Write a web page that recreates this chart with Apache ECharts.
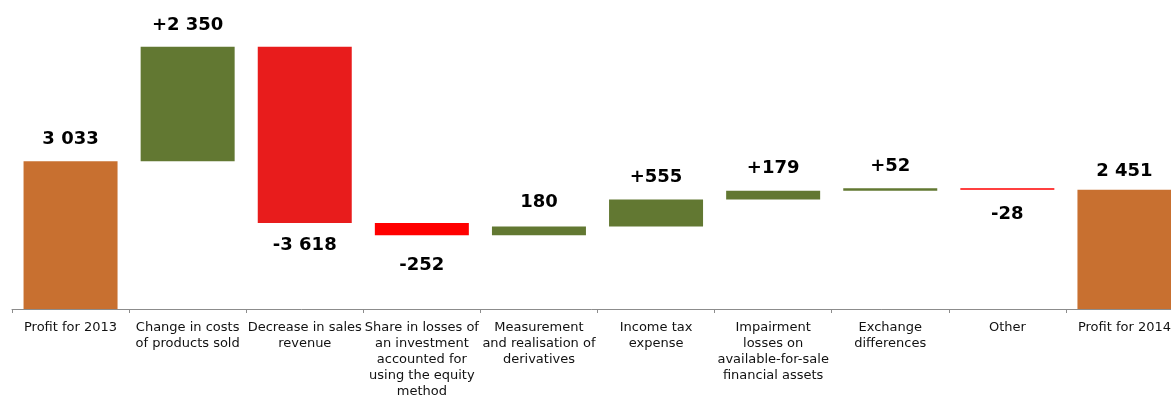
<!DOCTYPE html>
<html>
<head>
<meta charset="utf-8">
<script src="https://cdn.jsdelivr.net/npm/echarts@6/dist/echarts.min.js"></script>
<style>
  html, body { margin: 0; padding: 0; background: #fff; }
  #chart { width: 1171px; height: 396px; }
</style>
</head>
<body>
<div id="chart"></div>
<script>
// Profit bridge 2013 -> 2014
const categories = [
  'Profit for 2013',
  'Change in costs\nof products sold',
  'Decrease in sales\nrevenue',
  'Share in losses of\nan investment\naccounted for\nusing the equity\nmethod',
  'Measurement\nand realisation of\nderivatives',
  'Income tax\nexpense',
  'Impairment\nlosses on\navailable-for-sale\nfinancial assets',
  'Exchange\ndifferences',
  'Other',
  'Profit for 2014'
];
// totals are absolute, the rest are changes
const values = [3033, 2350, -3618, -252, 180, 555, 179, 52, -28, 2451];
const isTotal = [true, false, false, false, false, false, false, false, false, true];
const showPlus = [false, true, true, true, false, true, true, true, true, false];
const barColors = ['#C87030', '#627832', '#E81C1C', '#FF0000', '#627832', '#627832', '#627832', '#627832', '#FF0000', '#C87030'];
// gap between a bar and its value label
const labelGap = [13, 13, 13, 21, 15, 13, 13, 13, 16, 9];

// floating segments: invisible base + visible part
const baseData = [];
const barData = [];
let running = 0;
values.forEach((v, i) => {
  const start = isTotal[i] ? 0 : running;
  const end = isTotal[i] ? v : running + v;
  baseData.push(Math.min(start, end));
  barData.push({
    value: Math.abs(end - start),
    itemStyle: { color: barColors[i] },
    label: { position: v < 0 ? 'bottom' : 'top', distance: labelGap[i] }
  });
  running = end;
});

function fmt(v, plus) {
  const s = Math.abs(v).toString().replace(/\B(?=(\d{3})+(?!\d))/g, ' ');
  if (v < 0) return '-' + s;
  return (plus ? '+' : '') + s;
}

const chart = echarts.init(document.getElementById('chart'));
chart.setOption({
  animation: false,
  backgroundColor: '#ffffff',
  grid: { left: 12, top: 0, width: 1171, height: 309, outerBoundsMode: 'none', containLabel: false },
  xAxis: {
    type: 'category',
    data: categories,
    axisLine: { lineStyle: { color: '#8c8c8c', width: 1 } },
    axisTick: { show: true, length: 4, lineStyle: { color: '#8c8c8c' } },
    axisLabel: {
      interval: 0,
      margin: 11,
      color: '#111',
      fontFamily: 'DejaVu Sans',
      fontSize: 13,
      lineHeight: 16,
      hideOverlap: false
    }
  },
  yAxis: {
    type: 'value',
    min: 0,
    max: 6345,
    show: false,
    splitLine: { show: false }
  },
  series: [
    {
      type: 'bar',
      stack: 'w',
      data: baseData,
      itemStyle: { color: 'transparent' },
      barWidth: 94,
      silent: true
    },
    {
      type: 'bar',
      stack: 'w',
      data: barData,
      barWidth: 94,
      label: {
        show: true,
        position: 'top',
        color: '#000',
        fontFamily: 'DejaVu Sans',
        fontWeight: 'bold',
        fontSize: 18,
        formatter: p => fmt(values[p.dataIndex], showPlus[p.dataIndex])
      }
    }
  ]
});
</script>
</body>
</html>
